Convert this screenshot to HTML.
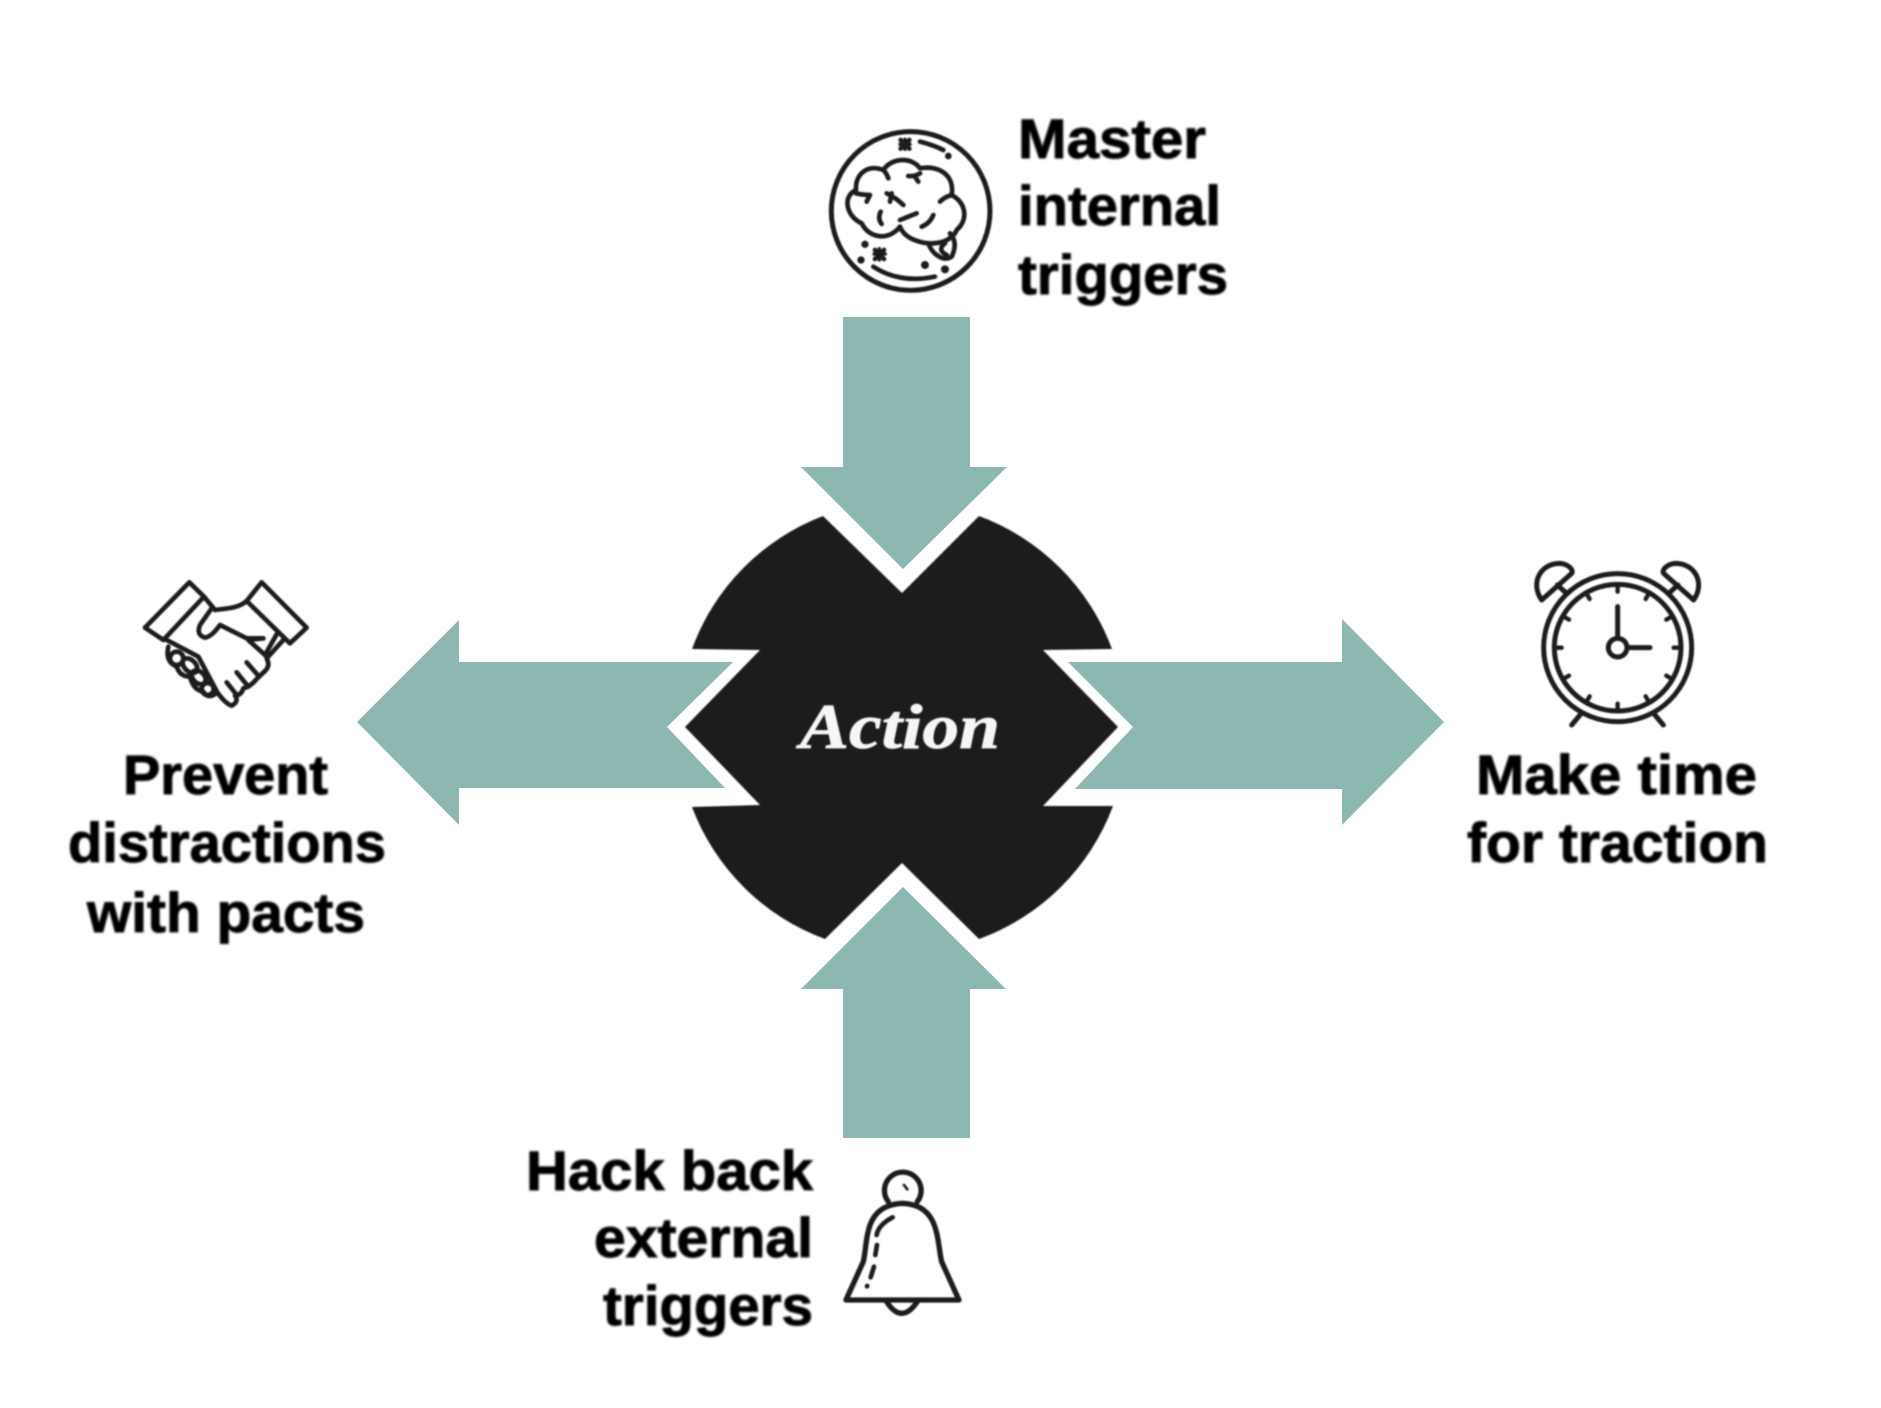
<!DOCTYPE html>
<html><head><meta charset="utf-8">
<style>html,body{margin:0;padding:0;background:#fff;width:1881px;height:1408px;overflow:hidden}svg{display:block}</style>
</head><body>
<svg width="1881" height="1408" viewBox="0 0 1881 1408" xmlns="http://www.w3.org/2000/svg">
<defs>
<filter id="b" x="-5%" y="-5%" width="110%" height="110%"><feGaussianBlur stdDeviation="1.1"/></filter>
<filter id="c" x="-5%" y="-5%" width="110%" height="110%"><feGaussianBlur stdDeviation="0.7"/></filter>
<filter id="i" x="-5%" y="-5%" width="110%" height="110%"><feGaussianBlur stdDeviation="2.6"/></filter>
</defs>
<g fill="#8db8b2">
<polygon points="843,317 970,317 970,467 1007,467 903,569 801,467 843,467"/>
<polygon points="843,1138 970,1138 970,989 1006,989 903,887 801,989 843,989"/>
<polygon points="357,722 459,620 459,662 733,662 667,727 725,788 459,788 459,825"/>
<polygon points="1068,662 1342,662 1342,619 1444,722 1342,825 1342,789 1075,789 1133,727"/>
</g>
<path filter="url(#c)" fill="#1e1d1e" d="M823 516 L902 593 L979 516 A225 225 0 0 1 1112 649 L1043 650 L1118 727 L1043 806 L1113 806 A225 225 0 0 1 979 939 L902 863 L825 939 A225 225 0 0 1 692 807 L760 805 L685 727 L760 650 L692 649 A225 225 0 0 1 823 516Z"/>
<text filter="url(#c)" x="800" y="748" font-family="'Liberation Serif',serif" font-weight="700" font-style="italic" font-size="64" fill="#f6f6f6" stroke="#f6f6f6" stroke-width=".8" textLength="200" lengthAdjust="spacingAndGlyphs">Action</text>

<g filter="url(#b)" font-family="'Liberation Sans',sans-serif" font-weight="700" font-size="55.5" fill="#000" stroke="#000" stroke-width=".9">
<text x="1018" y="158" textLength="188" lengthAdjust="spacingAndGlyphs">Master</text>
<text x="1018" y="225" textLength="203" lengthAdjust="spacingAndGlyphs">internal</text>
<text x="1018" y="294" textLength="210" lengthAdjust="spacingAndGlyphs">triggers</text>
<text x="123" y="794" textLength="205" lengthAdjust="spacingAndGlyphs">Prevent</text>
<text x="68" y="862" textLength="318" lengthAdjust="spacingAndGlyphs">distractions</text>
<text x="87" y="932" textLength="278" lengthAdjust="spacingAndGlyphs">with pacts</text>
<text x="1476" y="794" textLength="281" lengthAdjust="spacingAndGlyphs">Make time</text>
<text x="1467" y="862" textLength="301" lengthAdjust="spacingAndGlyphs">for traction</text>
<text x="526" y="1190" textLength="287" lengthAdjust="spacingAndGlyphs">Hack back</text>
<text x="594" y="1257" textLength="219" lengthAdjust="spacingAndGlyphs">external</text>
<text x="603" y="1325" textLength="210" lengthAdjust="spacingAndGlyphs">triggers</text>
</g>

<!-- brain -->
<g transform="translate(780,80) scale(.3333)" fill="none" stroke="#1c1c1c" stroke-width="14" stroke-linecap="round" stroke-linejoin="round">
<g filter="url(#i)">
<circle cx="392" cy="393" r="238" stroke-width="15"/>
<path d="M280 560 Q360 612 465 590"/>
<path d="M420 185 Q460 195 490 210"/>
<path d="M228 330 C225 280 265 252 310 270 C335 232 395 230 420 265 C470 255 525 280 515 345 C560 370 565 420 530 450 C525 465 505 480 490 485 C440 500 375 480 360 440 C330 480 270 480 245 430 C200 410 185 350 228 330Z"/>
<path d="M445 490 C455 520 490 548 515 530 C530 500 525 475 510 460"/>
<path d="M495 490 Q470 510 500 525"/>
<path d="M310 270 Q320 280 325 295 M385 288 Q405 290 420 280 M405 290 L415 305 M228 340 Q250 345 270 345 L260 365 M320 340 Q350 355 370 375 M335 340 L330 365 M302 395 Q292 415 305 432 M360 420 Q385 410 410 400 M425 440 Q450 430 460 405 M515 345 Q495 350 480 365"/>
<path d="M362 180 L388 206 M388 180 L362 206 M285 510 L312 537 M312 510 L285 537" stroke-width="14"/>
<path d="M375 178 V208 M360 193 H390 M298 506 V540 M282 522 H316" stroke-width="10"/>
<g fill="#1c1c1c" stroke="none">
<circle cx="505" cy="228" r="10"/><circle cx="255" cy="493" r="11"/><circle cx="243" cy="540" r="11"/><circle cx="435" cy="555" r="12"/><circle cx="495" cy="568" r="12"/>
</g>
</g>
</g>

<!-- handshake -->
<g transform="translate(130,575) scale(.3333)" fill="none" stroke="#1c1c1c" stroke-width="14" stroke-linecap="round" stroke-linejoin="round">
<g filter="url(#i)">
<polygon points="178,22 222,65 100,195 45,158"/>
<polygon points="395,22 530,158 480,205 350,78"/>
<path d="M222 65 L255 105 C290 100 325 100 350 78"/>
<path d="M245 100 L210 150 Q198 180 225 188 Q245 185 270 150 L350 190 L400 190 L355 195 L405 240 L440 178"/>
<path d="M460 195 L410 250 Q422 272 405 288 L380 312 Q362 335 340 340 Q335 360 315 362 Q328 380 305 392 Q285 385 262 352 L205 245 L110 195"/>
<path d="M350 262 L385 302 M320 292 L355 335 M290 322 L322 362"/>
<path d="M115 215 Q105 260 140 275 Q150 305 180 305 Q190 345 220 350 Q235 375 262 352"/>
<circle cx="140" cy="250" r="20"/>
<ellipse cx="180" cy="272" rx="17" ry="26" transform="rotate(-45 180 272)"/>
<ellipse cx="206" cy="307" rx="17" ry="24" transform="rotate(-45 206 307)"/>
<circle cx="233" cy="342" r="18"/>
</g>
</g>

<!-- clock -->
<g transform="translate(1450,540) scale(.3333)" fill="none" stroke="#1c1c1c" stroke-width="15" stroke-linecap="round" stroke-linejoin="round">
<g filter="url(#i)">
<circle cx="503" cy="323" r="222"/>
<circle cx="503" cy="323" r="190"/>
<circle cx="503" cy="323" r="28"/>
<path d="M503 200 V295 M531 323 H600"/>
<path d="M275 180 C240 130 270 70 330 70 C355 72 372 90 365 100 Z"/>
<path d="M731 180 C766 130 736 70 676 70 C651 72 634 90 641 100 Z"/>
<path d="M322 135 L350 160 M684 135 L656 160"/>
<path d="M390 525 L365 555 M615 525 L640 555"/>
<g stroke-width="13">
<path d="M503 133 V155 M503 513 V491 M313 323 H335 M693 323 H671"/>
<path d="M408 158 L419 177 M598 158 L587 177 M408 488 L419 469 M598 488 L587 469"/>
<path d="M338 228 L357 239 M668 228 L649 239 M338 418 L357 407 M668 418 L649 407"/>
</g>
</g>
</g>

<!-- bell -->
<g transform="translate(510,1130) scale(.3333)" fill="none" stroke="#1c1c1c" stroke-width="16" stroke-linecap="round" stroke-linejoin="round">
<g filter="url(#i)">
<path d="M1135 215 A55 55 0 1 1 1222 215"/>
<path d="M1008 510 L1060 395 C1075 330 1060 225 1178 220 C1290 225 1280 330 1295 395 L1347 510 Z"/>
<path d="M1130 515 Q1175 585 1222 515"/>
<path d="M1148 262 Q1105 285 1100 315 M1101 345 L1096 375 M1092 410 L1082 442 M1072 468 L1071 469" stroke-width="14"/>
<path d="M1182 165 L1192 178" stroke-width="8"/>
</g>
</g>
</svg>
</body></html>
